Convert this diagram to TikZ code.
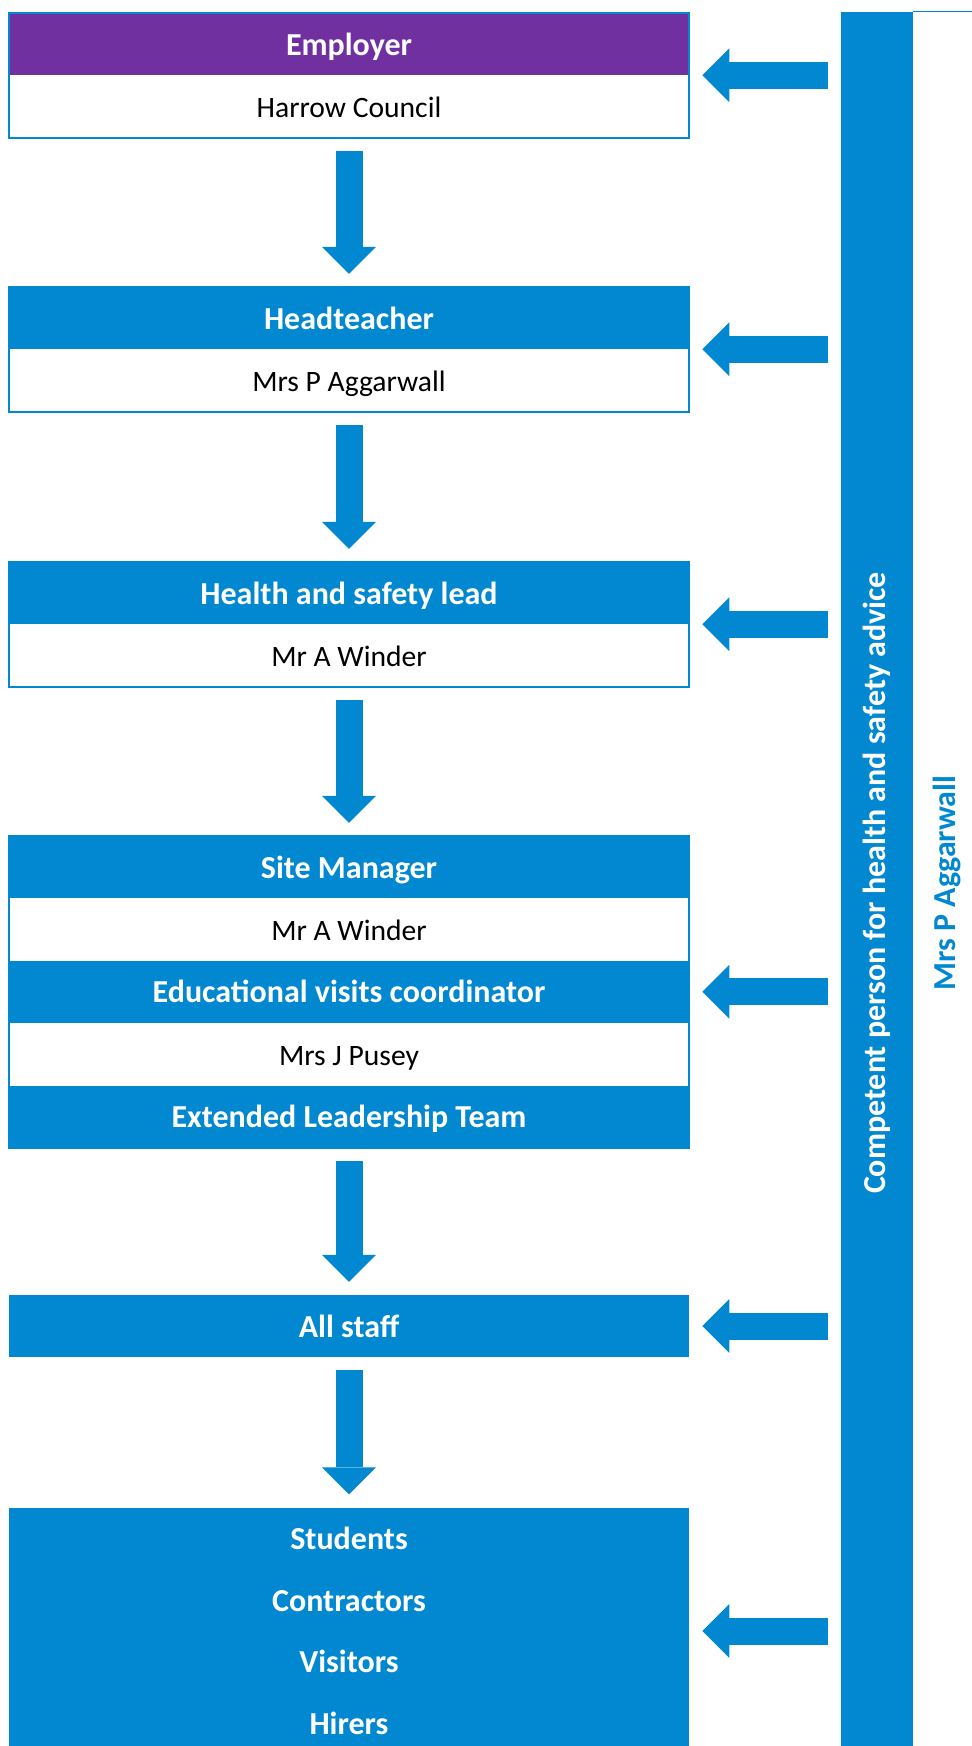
\documentclass[tikz,border=0pt]{standalone}
\usepackage{fontspec}
\setmainfont{Carlito}
\usetikzlibrary{arrows.meta}
\usetikzlibrary{positioning}

\definecolor{chartblue}{HTML}{0288D1}
\definecolor{chartpurple}{HTML}{7030A0}

\tikzset{
  row/.style={rectangle, minimum width=340pt, minimum height=30.8pt, inner sep=0pt,
    text height=11pt, text depth=0pt, font=\fontsize{14.8}{18}\selectfont},
  headrow/.style={row, fill=chartblue, text=white, font=\fontsize{16}{19}\selectfont\bfseries},
  namerow/.style={row, fill=white, text=black},
  frame/.style={draw=chartblue, line width=1pt},
  flow/.style={chartblue, line width=13.5pt, -{Triangle[length=13.5pt, width=27pt, line width=0pt]},
    shorten <=6.5pt, shorten >=6.5pt},
  sidebar/.style={rectangle, fill=chartblue, minimum width=36pt, minimum height=871pt, inner sep=0pt},
}

\begin{document}
\begin{tikzpicture}[x=0.5pt, y=-0.5pt]
        \useasboundingbox (0,0) rectangle (972,1746);

        % chain of responsibility
        \node[headrow, fill=chartpurple] (employer) at (349,44) {Employer};
        \node[namerow, below=0pt of employer] (council) {Harrow Council};
        \draw[frame] (employer.north west) rectangle (council.south east);

        \node[headrow] (head) at (349,318) {Headteacher};
        \node[namerow, below=0pt of head] (headname) {Mrs P Aggarwall};
        \draw[frame] (head.north west) rectangle (headname.south east);

        \node[headrow] (hslead) at (349,593) {Health and safety lead};
        \node[namerow, below=0pt of hslead] (hsname) {Mr A Winder};
        \draw[frame] (hslead.north west) rectangle (hsname.south east);

        \node[headrow] (site) at (349,867) {Site Manager};
        \node[namerow, below=0pt of site] (sitename) {Mr A Winder};
        \node[headrow, below=0pt of sitename] (evc) {Educational visits coordinator};
        \node[namerow, below=0pt of evc] (evcname) {Mrs J Pusey};
        \node[headrow, below=0pt of evcname] (elt) {Extended Leadership Team};
        \draw[frame] (site.north west) rectangle (elt.south east);

        \node[headrow] (staff) at (349,1326) {All staff};

        \node[headrow, minimum height=123.2pt, text height=, text depth=, align=center,
              font=\fontsize{16}{30.8}\selectfont\bfseries] (public) at (349,1631)
             {Students\\Contractors\\Visitors\\Hirers};

        \draw[flow] (council.south) -- (head.north);
        \draw[flow] (headname.south) -- (hslead.north);
        \draw[flow] (hsname.south) -- (site.north);
        \draw[flow] (elt.south) -- (staff.north);
        \draw[flow] (staff.south) -- (public.north);

        % competent person bar
        \node[sidebar] (bar) at (877,883) {};
        \node[rotate=90, text=white, font=\fontsize{16}{19}\selectfont\bfseries] (advice) at (bar.center)
             {Competent person for health and safety advice};
        \node[rotate=90, text=chartblue, font=\fontsize{16}{19}\selectfont\bfseries] (adviser) at (947,883)
             {Mrs P Aggarwall};
        \draw[chartblue, line width=0.8pt] (bar.north east) -- ++(59,0);

        \draw[flow] (bar.west |- employer.south) -- (employer.south east);
        \draw[flow] (bar.west |- head.south) -- (head.south east);
        \draw[flow] (bar.west |- hslead.south) -- (hslead.south east);
        \draw[flow] (bar.west |- evc.east) -- (evc.east);
        \draw[flow] (bar.west |- staff.east) -- (staff.east);
        \draw[flow] (bar.west |- public.east) -- (public.east);

\end{tikzpicture}
\end{document}
